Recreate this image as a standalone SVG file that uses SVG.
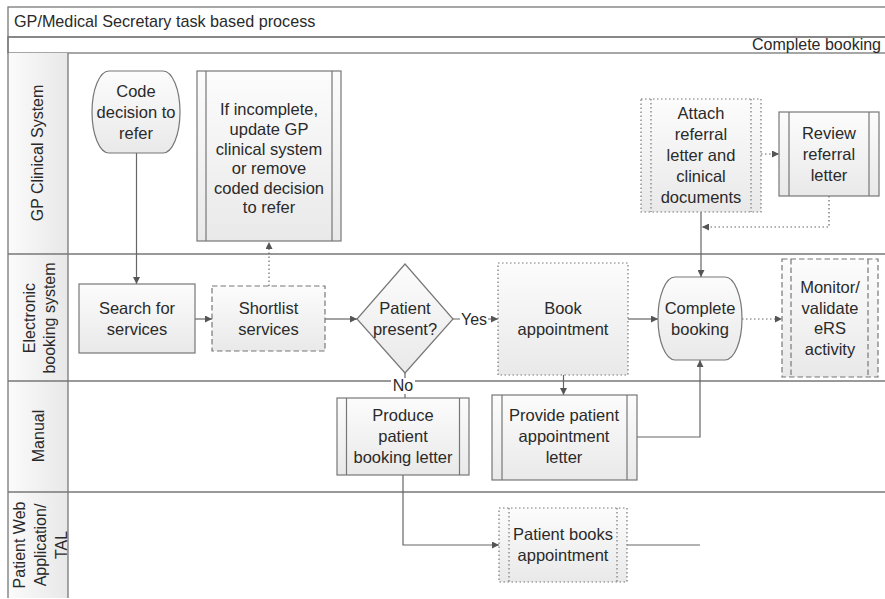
<svg xmlns="http://www.w3.org/2000/svg" width="885" height="599" viewBox="0 0 885 599">
<defs>
<linearGradient id="gf" x1="0" y1="0" x2="0" y2="1">
<stop offset="0" stop-color="#fcfcfc"/>
<stop offset="1" stop-color="#e9e9e9"/>
</linearGradient>
<linearGradient id="gh" x1="0" y1="0" x2="0" y2="1">
<stop offset="0" stop-color="#fafafa"/>
<stop offset="1" stop-color="#ececec"/>
</linearGradient>
<linearGradient id="gc" x1="0" y1="0" x2="1" y2="0">
<stop offset="0" stop-color="#fbfbfb"/>
<stop offset="1" stop-color="#e8e8e8"/>
</linearGradient>
<marker id="ar" viewBox="0 0 10 10" refX="10" refY="5" markerWidth="7" markerHeight="7" markerUnits="userSpaceOnUse" orient="auto">
<path d="M0,0 L10,5 L0,10 Z" fill="#555"/>
</marker>
<style>
.frame{fill:none;stroke:#777;stroke-width:1.3}
.sep{stroke:#777;stroke-width:1.3;fill:none}
.nd{fill:url(#gf);stroke:#777;stroke-width:1.2}
.in{fill:none;stroke:#777;stroke-width:1.2}
.dot{stroke-dasharray:1.5 2.5}
.dash{stroke-dasharray:5.5 3}
.cn{fill:none;stroke:#666;stroke-width:1.2}
.cd{fill:none;stroke:#666;stroke-width:1.2;stroke-dasharray:1.5 2.5}
text{font-family:"Liberation Sans",Arial,sans-serif;font-size:16px;fill:#2a2a2a}
.c{text-anchor:middle}
.n text,.n{font-size:16.5px}
</style>
</defs>
<rect width="885" height="599" fill="#ffffff"/>

<g id="pool">
<rect x="8" y="7" width="900" height="30" fill="url(#gh)" class="frame"/>
<text x="14" y="27" style="font-size:16.2px">GP/Medical Secretary task based process</text>
<rect x="8" y="37" width="900" height="16" fill="url(#gh)" class="frame"/>
<text x="881" y="50" text-anchor="end">Complete booking</text>
<rect x="8" y="53" width="60" height="545" fill="url(#gc)" stroke="none"/>
<line x1="8" y1="37" x2="8" y2="598" class="sep"/>
<line x1="68" y1="53" x2="68" y2="598" class="sep"/>
<line x1="8" y1="254" x2="885" y2="254" class="sep"/>
<line x1="8" y1="381" x2="885" y2="381" class="sep"/>
<line x1="8" y1="492" x2="885" y2="492" class="sep"/>
</g>

<g id="lane-gp"><text class="c" transform="translate(43,153) rotate(-90)" x="0" y="0">GP Clinical System</text></g>
<g id="lane-ebs"><text class="c" transform="translate(35,318) rotate(-90)"><tspan x="0" y="0">Electronic</tspan><tspan x="0" y="20">booking system</tspan></text></g>
<g id="lane-manual"><text class="c" transform="translate(44,436) rotate(-90)" x="0" y="0">Manual</text></g>
<g id="lane-patient"><text class="c" transform="translate(25,545) rotate(-90)"><tspan x="0" y="0">Patient Web</tspan><tspan x="0" y="21">Application/</tspan><tspan x="0" y="42">TAL</tspan></text></g>

<g id="connectors">
<path class="cn" d="M136.5,153 V284" marker-end="url(#ar)"/>
<path class="cn" d="M195,319 H212" marker-end="url(#ar)"/>
<path class="cd" d="M269,286 V242" marker-end="url(#ar)"/>
<path class="cn" d="M325,319 H357" marker-end="url(#ar)"/>
<path class="cn" d="M453,319 H498" marker-end="url(#ar)"/>
<path class="cn" d="M405,373 V398"/>
<path class="cn" d="M628,319 H658" marker-end="url(#ar)"/>
<path class="cn" d="M563.5,375 V395" marker-end="url(#ar)"/>
<path class="cd" d="M742,319 H782" marker-end="url(#ar)"/>
<path class="cn" d="M701,212 V277" marker-end="url(#ar)"/>
<path class="cd" d="M761,154 H779" marker-end="url(#ar)"/>
<path class="cd" d="M829,196 V227 H702" marker-end="url(#ar)"/>
<path class="cn" d="M637,437 H700 V360" marker-end="url(#ar)"/>
<path class="cn" d="M403,475 V545 H499" marker-end="url(#ar)"/>
<path class="cn" d="M627,545 H700"/>
<rect x="460" y="311" width="28" height="17" fill="#ffffff"/>
<text class="c" x="474" y="325">Yes</text>
<rect x="391" y="378" width="24" height="16" fill="#ffffff"/>
<text class="c" x="403" y="391">No</text>
</g>

<g id="n-code" class="n">
<path class="nd" d="M109,71 H163 A17,41 0 0 1 163,153 H109 A17,41 0 0 1 109,71 Z"/>
<text class="c"><tspan x="136" y="97">Code</tspan><tspan x="136" y="118">decision to</tspan><tspan x="136" y="139">refer</tspan></text>
</g>

<g id="n-incomplete" class="n">
<rect class="nd" x="197" y="71" width="144" height="170"/>
<path class="in" d="M206,71 V241 M332,71 V241"/>
<text class="c"><tspan x="269" y="115">If incomplete,</tspan><tspan x="269" y="135">update GP</tspan><tspan x="269" y="154.5">clinical system</tspan><tspan x="269" y="174">or remove</tspan><tspan x="269" y="193.5">coded decision</tspan><tspan x="269" y="213">to refer</tspan></text>
</g>

<g id="n-attach" class="n">
<rect class="nd dot" x="641" y="99" width="120" height="113"/>
<path class="in dot" d="M651,99 V212 M751,99 V212"/>
<text class="c"><tspan x="701" y="118.5">Attach</tspan><tspan x="701" y="140">referral</tspan><tspan x="701" y="161">letter and</tspan><tspan x="701" y="182">clinical</tspan><tspan x="701" y="203">documents</tspan></text>
</g>

<g id="n-review" class="n">
<rect class="nd" x="779" y="112" width="100" height="84"/>
<path class="in" d="M789,112 V196 M869,112 V196"/>
<text class="c"><tspan x="829" y="138.5">Review</tspan><tspan x="829" y="159.5">referral</tspan><tspan x="829" y="180.5">letter</tspan></text>
</g>

<g id="n-search" class="n">
<rect class="nd" x="79" y="284" width="116" height="69"/>
<text class="c"><tspan x="137" y="313.5">Search for</tspan><tspan x="137" y="334.5">services</tspan></text>
</g>

<g id="n-shortlist" class="n">
<rect class="nd dash" x="212" y="286" width="113" height="65"/>
<text class="c"><tspan x="268.5" y="313.5">Shortlist</tspan><tspan x="268.5" y="334.5">services</tspan></text>
</g>

<g id="n-present" class="n">
<path class="nd" d="M405,264 L453,319 L405,373 L357,319 Z"/>
<text class="c"><tspan x="405" y="313.5">Patient</tspan><tspan x="405" y="334.5">present?</tspan></text>
</g>

<g id="n-book" class="n">
<rect class="nd dot" x="498" y="263" width="130" height="112"/>
<text class="c"><tspan x="563" y="313.5">Book</tspan><tspan x="563" y="334.5">appointment</tspan></text>
</g>

<g id="n-complete" class="n">
<path class="nd" d="M675,277 H725 A17,41.5 0 0 1 725,360 H675 A17,41.5 0 0 1 675,277 Z"/>
<text class="c"><tspan x="700" y="313.5">Complete</tspan><tspan x="700" y="334.5">booking</tspan></text>
</g>

<g id="n-monitor" class="n">
<rect class="nd dash" x="782" y="259" width="96" height="118"/>
<path class="in dash" d="M791,259 V377 M868,259 V377"/>
<text class="c"><tspan x="830" y="292.5">Monitor/</tspan><tspan x="830" y="313.5">validate</tspan><tspan x="830" y="334">eRS</tspan><tspan x="830" y="355">activity</tspan></text>
</g>

<g id="n-produce" class="n">
<rect class="nd" x="337" y="398" width="132" height="77"/>
<path class="in" d="M346.5,398 V475 M459.5,398 V475"/>
<text class="c"><tspan x="403" y="421">Produce</tspan><tspan x="403" y="442">patient</tspan><tspan x="403" y="463">booking letter</tspan></text>
</g>

<g id="n-provide" class="n">
<rect class="nd" x="492" y="395" width="145" height="85"/>
<path class="in" d="M502,395 V480 M627,395 V480"/>
<text class="c"><tspan x="564" y="421">Provide patient</tspan><tspan x="564" y="442">appointment</tspan><tspan x="564" y="463">letter</tspan></text>
</g>

<g id="n-patientbooks" class="n">
<rect class="nd dot" x="499" y="508" width="128" height="74"/>
<path class="in dot" d="M509,508 V582 M617,508 V582"/>
<text class="c"><tspan x="563" y="539.5">Patient books</tspan><tspan x="563" y="560.5">appointment</tspan></text>
</g>
</svg>
